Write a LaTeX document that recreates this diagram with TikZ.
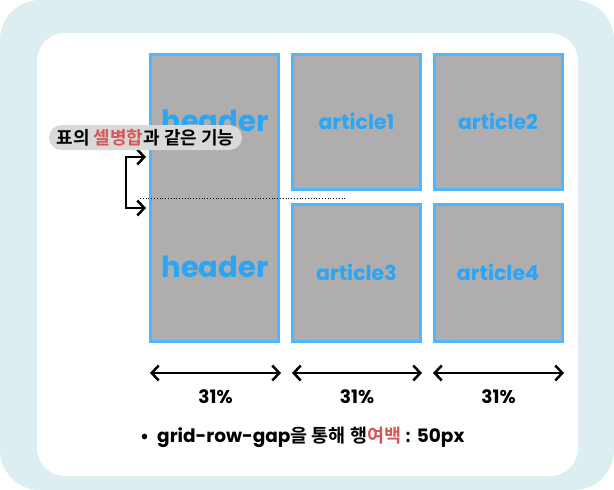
\documentclass[tikz,border=0pt]{standalone}
\usepackage{fontspec}
\setmainfont{Noto Sans CJK KR}[BoldFont={* Bold}]
\newfontfamily\lat{Poppins}[BoldFont={* Bold}]
\usetikzlibrary{arrows.meta}

\definecolor{bgteal}{HTML}{DCEEF0}
\definecolor{cellblue}{HTML}{4DB8FF}
\definecolor{textblue}{HTML}{2AA6F7}
\definecolor{cellgray}{HTML}{AFADAD}
\definecolor{pillgray}{HTML}{D9D9D9}
\definecolor{accentred}{HTML}{D65656}

\tikzset{
  cell/.style={draw=cellblue, fill=cellgray, line width=3pt, inner sep=0pt},
  celltext/.style={text=textblue, font=\lat\bfseries\fontsize{20.5}{20.5}\selectfont},
  headtext/.style={text=textblue, font=\lat\bfseries\fontsize{29}{29}\selectfont},
  barb/.style={line width=2.5pt, {Straight Barb[length=7pt,width=15pt]}-{Straight Barb[length=7pt,width=15pt]}},
  pct/.style={font=\lat\bfseries\fontsize{18.5}{18.5}\selectfont}
}

\begin{document}
\begin{tikzpicture}[x=1pt,y=-1pt]
\useasboundingbox (0,0) rectangle (614,490);
\fill[bgteal, rounded corners=40pt] (0,0) rectangle (614,490);
\fill[white, rounded corners=28pt] (37,33) rectangle (578,476);

% grid cells
\node[cell, minimum width=128pt, minimum height=287pt] (header) at (214.5,197.5) {};
\node[cell, minimum width=128pt, minimum height=135pt] (art1) at (356.5,121.5) {};
\node[cell, minimum width=128pt, minimum height=135pt] (art2) at (498,121.5) {};
\node[cell, minimum width=128pt, minimum height=137pt] (art3) at (356.5,272.5) {};
\node[cell, minimum width=128pt, minimum height=137pt] (art4) at (498,272.5) {};

\node[headtext] (htop) at (215,121) {header};
\node[headtext] (hbot) at (215,267) {header};
\node[celltext] (a1) at (art1.center) {article1};
\node[celltext] (a2) at (art2.center) {article2};
\node[celltext] (a3) at (art3.center) {article3};
\node[celltext] (a4) at (art4.center) {article4};

% row gap
\coordinate (gapl) at (140,198);
\coordinate (gapr) at (346,198);
\draw[dotted, line width=0.8pt] (gapl) -- (gapr);

\coordinate (brtop) at (146,157);
\coordinate (brbot) at (146,208);
\draw[barb] (brtop) -- (126,157) -- (126,208) -- (brbot);

\node[fill=pillgray, rounded corners=12.5pt, minimum width=193pt, minimum height=25pt, inner sep=0pt,
  font=\bfseries\fontsize{18}{18}\selectfont] (merge) at (145.5,137.5)
  {표의 \textcolor{accentred}{셀병합}과 같은 기능};

% column widths
\coordinate (w1l) at (150,373); \coordinate (w1r) at (281,373);
\coordinate (w2l) at (292,373); \coordinate (w2r) at (422,373);
\coordinate (w3l) at (433,373); \coordinate (w3r) at (564,373);
\draw[barb] (w1l) -- (w1r);
\draw[barb] (w2l) -- (w2r);
\draw[barb] (w3l) -- (w3r);
\node[pct] (p1) at (215.5,397) {31\%};
\node[pct] (p2) at (357,397) {31\%};
\node[pct] (p3) at (498.5,397) {31\%};

\node[anchor=west, inner sep=0pt, font=\bfseries\fontsize{18.5}{18.5}\selectfont] (note) at (141,437)
  {•\hspace{9pt}{\lat grid-row-gap}을 통해 행\textcolor{accentred}{여백} : {\lat 50px}};
\end{tikzpicture}
\end{document}
